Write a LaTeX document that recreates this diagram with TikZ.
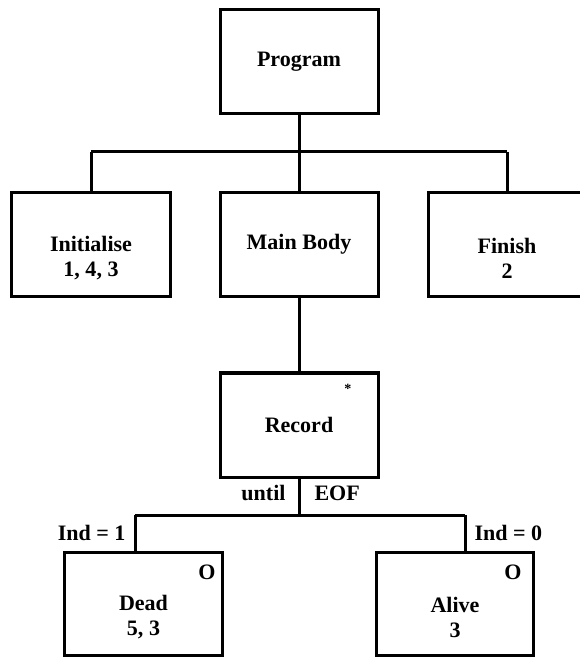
\documentclass[tikz,border=0pt]{standalone}
\usepackage{fontspec}
\setmainfont{Liberation Serif}
\usepackage{tikz}
\usetikzlibrary{positioning, calc}

\begin{document}
\begin{tikzpicture}[x=0.03cm, y=-0.03cm, line width=0.09cm,
    procbox/.style={draw, fill=white, minimum width=4.74cm, minimum height=3.12cm, align=center, font=\fontsize{18.8}{21.3}\selectfont\bfseries},
    condtext/.style={font=\fontsize{18.8}{21.3}\selectfont\bfseries, inner sep=0pt}]
    \useasboundingbox (0,0) rectangle (579,657);

    % Top level
    \node[procbox] (prog) at (299,62) {Program};
    \node[procbox] (init) at (91,244.5) {\strut\\Initialise\\1, 4, 3};
    \node[procbox] (main) at (299,244.5) {Main Body};
    \node[procbox] (fin) at (507,244.5) {\strut\\Finish\\2};

    \coordinate (tbar) at (299,152);
    \draw (prog.south) -- (tbar);
    \draw (init.north |- tbar) -- (fin.north |- tbar);
    \draw (init.north |- tbar) -- (init.north);
    \draw (tbar) -- (main.north);
    \draw (fin.north |- tbar) -- (fin.north);

    % Iteration
    \node[procbox] (rec) at (299,425) {Record};
    \node[font=\fontsize{12}{12}\selectfont\bfseries, inner sep=0pt] (iter) at (348,389) {*};
    \draw (main.south) -- (rec.north);

    % Selection
    \node[procbox, minimum width=4.71cm, minimum height=3.09cm] (dead) at (143.5,603.5) {\strut\\Dead\\5, 3};
    \node[procbox, minimum width=4.71cm, minimum height=3.09cm] (alive) at (455,603.5) {\strut\\Alive\\3};
    \node[condtext] (sel1) at (207,572) {O};
    \node[condtext] (sel2) at (513,572) {O};

    \coordinate (dl) at (135,515);
    \coordinate (al) at (465,515);
    \draw (rec.south) -- (rec.south |- dl);
    \draw (dl) -- (al);
    \draw (dl) -- (dl |- dead.north);
    \draw (al) -- (al |- alive.north);

    \node[condtext, anchor=east] (until) at (287,493) {until};
    \node[condtext, anchor=west] (eof) at (313,493) {EOF};
    \node[condtext, anchor=east] (ind1) at (127,533) {Ind = 1};
    \node[condtext, anchor=west] (ind0) at (473,533) {Ind = 0};
\end{tikzpicture}
\end{document}
